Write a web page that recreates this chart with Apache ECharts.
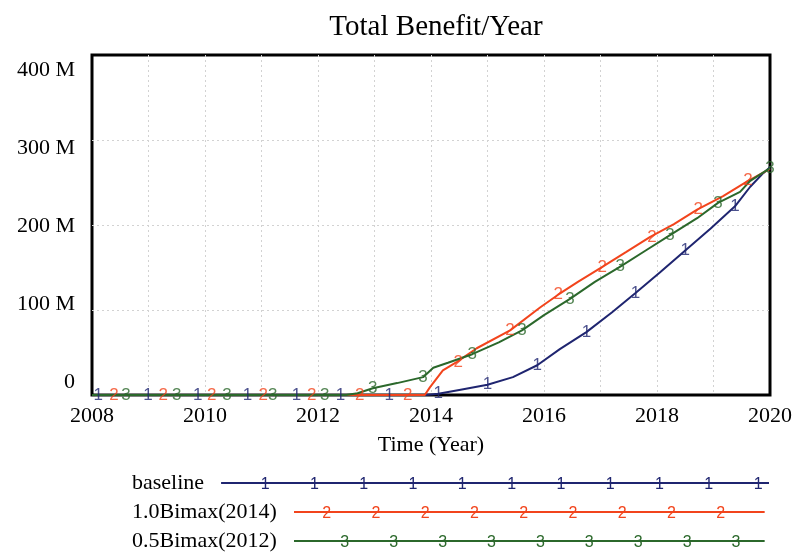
<!DOCTYPE html>
<html>
<head>
<meta charset="utf-8">
<script src="https://cdn.jsdelivr.net/npm/echarts@6/dist/echarts.min.js"></script>
<style>html,body{margin:0;padding:0;background:#fff;}#c{width:795px;height:553px;}</style>
</head>
<body>
<div id="c"></div>
<script>
// ---- data (years, millions) ----
const seriesNames = ['baseline', '1.0Bimax(2014)', '0.5Bimax(2012)'];
const markerText = ['1', '2', '3'];
const yTickValues = [0, 100, 200, 300, 400];
const yTickLabels = ['0', '100 M', '200 M', '300 M', '400 M'];
const xLabelYears = [2008, 2010, 2012, 2014, 2016, 2018, 2020];

const baseline = [[2008,0],[2013.9,0],[2014.13,1.5],[2014.5,6],[2015.0,12],[2015.45,21],[2015.88,35],[2016.28,54],[2016.75,74],[2017.2,97],[2017.62,120],[2018.05,144],[2018.5,170],[2018.95,196],[2019.38,222],[2019.65,245],[2019.88,261],[2020,268]];
const bimax10 = [[2008,0],[2013.89,0],[2013.98,9],[2014.21,29],[2014.46,39],[2014.81,55],[2015.4,76],[2015.93,103],[2016.25,118],[2016.6,133],[2016.99,149],[2017.45,168],[2017.88,186],[2018.3,201],[2018.71,218],[2019.17,234],[2019.59,251],[2020,266]];
const bimax05 = [[2008,0],[2012.5,0],[2012.7,2],[2012.97,8],[2013.4,14],[2013.86,21],[2014.04,32],[2014.3,38],[2014.73,48],[2015.2,62],[2015.61,76],[2016.0,94],[2016.46,113],[2016.9,133],[2017.35,151],[2017.8,170],[2018.23,188],[2018.71,208],[2019.08,226],[2019.47,239],[2019.65,252],[2020,267]];

const baselineMarks = [[2008.11,0],[2008.99,0],[2009.87,0],[2010.75,0],[2011.62,0],[2012.4,0],[2013.26,0],[2014.13,1.5],[2015.0,12],[2015.88,35],[2016.75,74],[2017.62,120],[2018.5,170],[2019.38,222]];
const bimax10Marks = [[2008.39,0],[2009.26,0],[2010.12,0],[2011.03,0],[2011.89,0],[2012.74,0],[2013.59,0],[2014.48,39],[2015.4,76],[2016.25,118],[2017.03,150],[2017.91,186],[2018.73,218],[2019.61,252]];
const bimax05Marks = [[2008.6,0],[2009.5,0],[2010.39,0],[2011.2,0],[2012.12,0],[2012.97,8],[2013.86,21],[2014.73,48],[2015.61,76],[2016.46,113],[2017.35,151],[2018.23,188],[2019.08,226],[2020,267]];

// ---- styles ----
const colors = ['#1f2570', '#f2441c', '#2b682b'];
const serif = 'Liberation Serif';
const sans = 'Liberation Sans';

function legendIcon(w, h, color, txt, first, step, count) {
  let s = '<svg xmlns="http://www.w3.org/2000/svg" width="' + w + '" height="' + h + '" viewBox="0 0 ' + w + ' ' + h + '">';
  s += '<line x1="0" y1="' + (h/2) + '" x2="' + w + '" y2="' + (h/2) + '" stroke="' + color + '" stroke-width="2"/>';
  for (let i = 0; i < count; i++) {
    const x = first + i * step;
    s += '<text x="' + x + '" y="' + (h/2 + 6) + '" font-family="Liberation Sans, Arial, sans-serif" font-size="16" text-anchor="middle" fill="' + color + '">' + txt + '</text>';
  }
  s += '</svg>';
  return 'image://data:image/svg+xml;charset=utf-8,' + encodeURIComponent(s);
}

const legendRows = [
  {name: seriesNames[0], top: 467, w: 548, first: 44, step: 49.3, count: 11},
  {name: seriesNames[1], top: 496, w: 471, first: 33, step: 49.25, count: 9},
  {name: seriesNames[2], top: 525, w: 471, first: 51, step: 48.9, count: 9}
];

const chart = echarts.init(document.getElementById('c'), null, {renderer: 'canvas'});

const lineData = [baseline, bimax10, bimax05];
const markData = [baselineMarks, bimax10Marks, bimax05Marks];

const series = [];
lineData.forEach((d, i) => {
  series.push({
    name: seriesNames[i], type: 'line', data: d, showSymbol: false, symbol: 'none',
    lineStyle: {color: colors[i], width: 2}, itemStyle: {color: colors[i]},
    z: 3 + i, silent: true
  });
});
markData.forEach((d, i) => {
  series.push({
    name: 'marks' + (i + 1), type: 'scatter', data: d, symbolSize: 1,
    itemStyle: {color: 'rgba(0,0,0,0)'},
    label: {show: true, position: 'inside', formatter: markerText[i], color: colors[i],
            fontFamily: sans, fontSize: 17},
    z: 6 + i, silent: true
  });
});

const gridLine = {show: true, showMinLine: false, showMaxLine: false,
                  lineStyle: {color: '#d2d2d2', type: [2, 3], width: 1}};

const option = {
  animation: false,
  backgroundColor: '#fff',
  title: {
    text: 'Total Benefit/Year', left: 431, top: 8, textAlign: 'center',
    textStyle: {fontFamily: serif, fontSize: 29, fontWeight: 'normal', color: '#000'}
  },
  legend: legendRows.map((r, i) => ({
    data: [{name: r.name, icon: legendIcon(r.w, 20, colors[i], markerText[i], r.first, r.step, r.count)}],
    left: 127, top: r.top, orient: 'horizontal', align: 'right',
    itemWidth: r.w, itemHeight: 20, selectedMode: false,
    textStyle: {fontFamily: serif, fontSize: 22, color: '#000', padding: [0, 12, 0, 0]}
  })),
  grid: {
    left: 92, right: 25, top: 55, bottom: 158, show: true,
    borderColor: '#000', borderWidth: 3, backgroundColor: 'transparent'
  },
  xAxis: {
    type: 'value', min: 2008, max: 2020, interval: 1,
    name: 'Time (Year)', nameLocation: 'middle', nameGap: 39,
    nameTextStyle: {fontFamily: serif, fontSize: 22, color: '#000'},
    axisLine: {show: false}, axisTick: {show: false},
    axisLabel: {
      margin: 10, fontFamily: serif, fontSize: 22, color: '#000',
      formatter: v => xLabelYears.indexOf(v) >= 0 ? String(v) : ''
    },
    splitLine: gridLine
  },
  yAxis: [
    {
      type: 'value', min: 0, max: 400, interval: 100,
      axisLine: {show: false}, axisTick: {show: false}, axisLabel: {show: false},
      splitLine: gridLine
    },
    {
      type: 'value', position: 'left', min: -16.667, max: 419.23,
      axisLine: {show: false}, axisTick: {show: false}, splitLine: {show: false},
      axisLabel: {
        customValues: yTickValues, margin: 17, fontFamily: serif, fontSize: 22, color: '#000',
        formatter: v => { const k = yTickValues.indexOf(v); return k >= 0 ? yTickLabels[k] : ''; }
      }
    }
  ],
  tooltip: {show: false},
  series: series
};
chart.setOption(option);
</script>
</body>
</html>
